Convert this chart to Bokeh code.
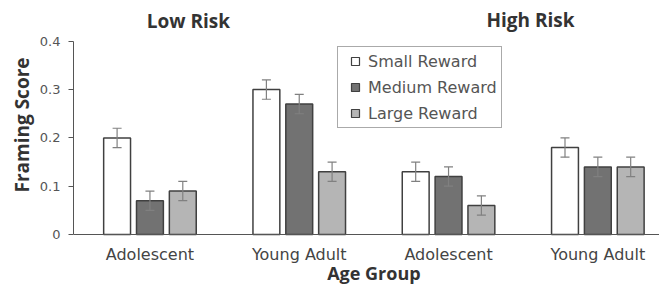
from bokeh.plotting import figure
from bokeh.models import (ColumnDataSource, Range1d, FixedTicker, Whisker, TeeHead,
                          Legend, LegendItem, Label, Title, Span)
from bokeh.core.properties import value
from bokeh.embed import file_html
from bokeh.resources import INLINE

# ---- data ----
groups = ["Adolescent", "Young Adult", "Adolescent", "Young Adult"]
panels = ["Low Risk", "High Risk"]
series = ["Small Reward", "Medium Reward", "Large Reward"]
small = [0.20, 0.30, 0.13, 0.18]
medium = [0.07, 0.27, 0.12, 0.14]
large = [0.09, 0.13, 0.06, 0.14]
small_err = [0.02, 0.02, 0.02, 0.02]
medium_err = [0.02, 0.02, 0.02, 0.02]
large_err = [0.02, 0.02, 0.02, 0.02]
y_ticks = [0, 0.1, 0.2, 0.3, 0.4]
y_tick_labels = ["0", "0.1", "0.2", "0.3", "0.4"]
x_title = "Age Group"
y_title = "Framing Score"

fills = ["#ffffff", "#727272", "#b5b5b5"]
offsets = [-0.22, 0.0, 0.22]
bar_w = 0.18
centers = [1, 2, 3, 4]

W, H = 659, 286
px_per_unit = 483.0
zero_px = 234
y_top = zero_px / px_per_unit
y_bot = (zero_px - H) / px_per_unit

p = figure(width=W, height=H, output_backend="svg", toolbar_location=None,
           x_range=Range1d(0.488, 0.488 + (W - 73) / 149.3), y_range=Range1d(y_bot, y_top),
           min_border_left=73, min_border_right=0, min_border_top=0, min_border_bottom=0)
p.outline_line_color = None
p.grid.visible = False
p.background_fill_color = "white"
p.xaxis.visible = False

# x axis line at zero
p.add_layout(Span(location=0, dimension="width", line_color="#555555", line_width=1))

for vals, errs, off, col in zip([small, medium, large], [small_err, medium_err, large_err], offsets, fills):
    xs = [c + off for c in centers]
    src = ColumnDataSource(dict(x=xs, top=vals,
                                lo=[v - e for v, e in zip(vals, errs)],
                                hi=[v + e for v, e in zip(vals, errs)]))
    p.vbar(x="x", top="top", width=bar_w, bottom=0, source=src,
           fill_color=col, line_color="#404040", line_width=1.5)
    w = Whisker(base="x", lower="lo", upper="hi", source=src, level="overlay",
                line_color="#808080", line_width=1.2,
                upper_head=TeeHead(size=9, line_color="#808080", line_width=1.2),
                lower_head=TeeHead(size=9, line_color="#808080", line_width=1.2))
    p.add_layout(w)

# y axis
p.yaxis.bounds = (0, 0.4)
p.yaxis.ticker = FixedTicker(ticks=y_ticks)
p.yaxis.major_label_overrides = {t: l for t, l in zip(y_ticks, y_tick_labels)}
p.yaxis.minor_tick_line_color = None
p.yaxis.major_tick_in = 0
p.yaxis.major_tick_out = 5
p.yaxis.major_label_standoff = 8
p.yaxis.axis_line_color = "#555555"
p.yaxis.major_tick_line_color = "#555555"
p.yaxis.major_label_text_font = "DejaVu Sans"
p.yaxis.major_label_text_font_size = "13px"
p.yaxis.major_label_text_color = "#555555"

# y axis title
p.add_layout(Title(text=y_title, align="left", offset=94, standoff=4,
                   text_font="Open Sans", text_font_style="bold",
                   text_font_size="19px", text_color="#333333"), "left")

# x tick labels and title as text
p.text(x=centers, y=[-0.0414] * len(centers), text=groups,
       text_align="center", text_baseline="middle",
       text_font=value("DejaVu Sans"), text_font_size="16px", text_color="#444444")
p.text(x=[2.5], y=[-0.079], text=[x_title],
       text_align="center", text_baseline="middle",
       text_font=value("Open Sans"), text_font_style="bold",
       text_font_size="18px", text_color="#333333")

# panel titles
for txt, x, y in zip(panels, [1.258, 3.549], [0.441, 0.445]):
    p.add_layout(Label(x=x, y=y, text=txt, text_align="center", text_baseline="middle",
                       text_font="Open Sans", text_font_style="bold",
                       text_font_size="19px", text_color="#333333"))

# legend with square markers
legend_items = []
for name, col in zip(series, fills):
    d = p.scatter(x=[None], y=[None], marker="square", size=10, fill_color=col,
                  line_color="#404040", line_width=1.2)
    legend_items.append(LegendItem(label=name, renderers=[d]))

legend = Legend(items=legend_items, location=(264, 158), orientation="vertical",
                padding=4, spacing=6, margin=0, label_height=20, glyph_height=20,
                glyph_width=26, label_standoff=0,
                label_text_font="DejaVu Sans", label_text_font_size="16px",
                label_text_color="#555555",
                border_line_color="#555555", border_line_width=1.2,
                background_fill_color="white", background_fill_alpha=1.0)
p.add_layout(legend, "center")

open("out.html", "w").write(file_html(p, INLINE))
